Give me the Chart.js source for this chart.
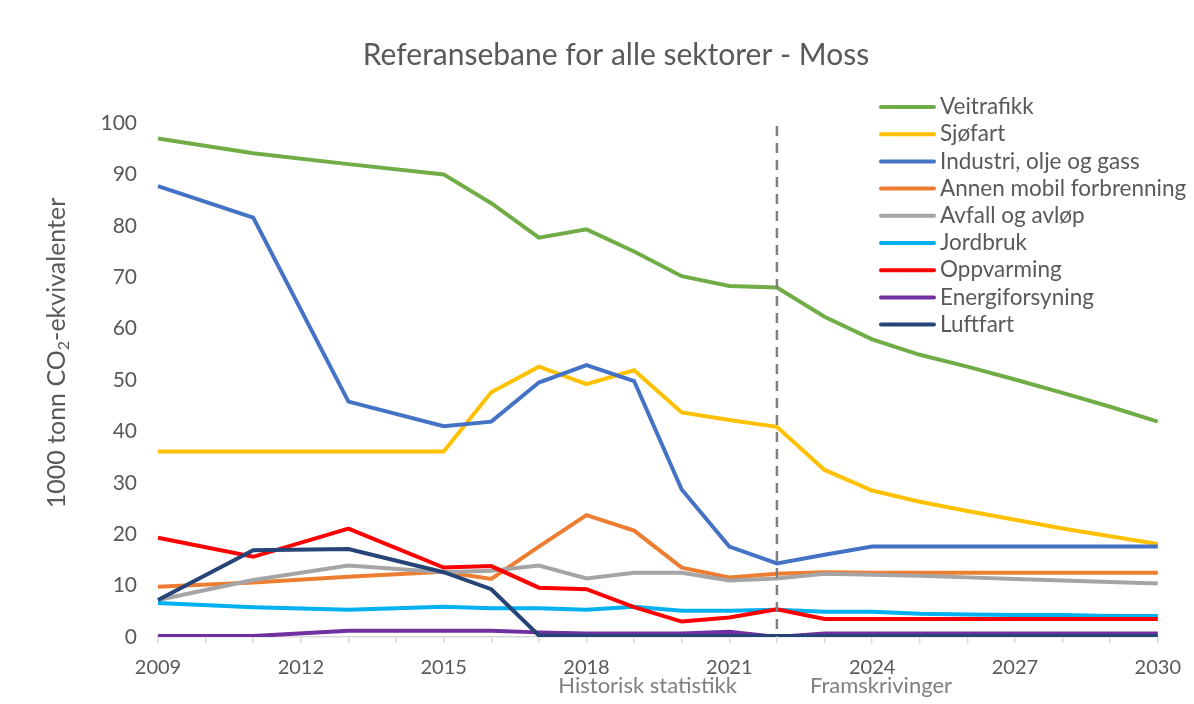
<!DOCTYPE html>
<html>
<head>
<meta charset="utf-8">
<script src="https://cdn.jsdelivr.net/npm/chart.js@4.4.1/dist/chart.umd.min.js"></script>
<style>
  html, body { margin: 0; padding: 0; background: #fff; }
  #wrap { width: 1194px; height: 704px; }
</style>
</head>
<body>
<div id="wrap"><canvas id="chart" width="1194" height="704"></canvas></div>
<script>
var chartColors = {
    green: '#70AD47',
    yellow: '#FFC000',
    blue: '#4472C4',
    orange: '#ED7D31',
    grey: '#A5A5A5',
    lightblue: '#00B0F0',
    red: '#FF0000',
    purple: '#7030A0',
    navy: '#264478'
};

var years = ['2009', '2010', '2011', '2012', '2013', '2014', '2015', '2016', '2017', '2018', '2019',
    '2020', '2021', '2022', '2023', '2024', '2025', '2026', '2027', '2028', '2029', '2030'];

// 2010, 2012 and 2014 have no values (line goes straight across)
var veitrafikk =      [97.0, null, 94.1, null, 92.0, null, 90.0, 84.4, 77.7, 79.3, 75.0, 70.2, 68.3, 68.0, 62.3, 57.9, 54.9, 52.6, 50.1, 47.5, 44.8, 41.9];
var sjofart =         [36.1, null, 36.1, null, 36.1, null, 36.1, 47.6, 52.6, 49.2, 51.9, 43.7, 42.2, 40.9, 32.5, 28.5, 26.3, 24.5, 22.8, 21.1, 19.6, 18.1];
var industri =        [87.7, null, 81.6, null, 45.8, null, 41.0, 41.9, 49.5, 52.9, 49.8, 28.7, 17.6, 14.3, 16.0, 17.6, 17.6, 17.6, 17.6, 17.6, 17.6, 17.6];
var annenMobil =      [9.8, null, 10.6, null, 11.7, null, 12.7, 11.3, 17.6, 23.7, 20.7, 13.5, 11.6, 12.3, 12.6, 12.5, 12.5, 12.5, 12.5, 12.5, 12.5, 12.5];
var avfall =          [7.2, null, 11.1, null, 13.9, null, 12.6, 12.9, 13.9, 11.4, 12.5, 12.5, 11.0, 11.4, 12.3, 12.1, 11.9, 11.6, 11.3, 11.0, 10.7, 10.4];
var jordbruk =        [6.6, null, 5.8, null, 5.3, null, 5.9, 5.6, 5.6, 5.3, 5.9, 5.1, 5.1, 5.3, 4.9, 4.9, 4.5, 4.4, 4.3, 4.3, 4.1, 4.1];
var oppvarming =      [19.3, null, 15.6, null, 21.1, null, 13.5, 13.8, 9.6, 9.3, 5.8, 3.0, 3.8, 5.4, 3.5, 3.5, 3.5, 3.5, 3.5, 3.5, 3.5, 3.5];
var energiforsyning = [0.2, null, 0.2, null, 1.2, null, 1.2, 1.2, 0.9, 0.7, 0.7, 0.7, 1.0, 0.0, 0.7, 0.7, 0.7, 0.7, 0.7, 0.7, 0.7, 0.7];
var luftfart =        [7.2, null, 16.9, null, 17.1, null, 12.6, 9.3, 0.3, 0.2, 0.2, 0.2, 0.2, 0.2, 0.2, 0.2, 0.2, 0.2, 0.2, 0.2, 0.2, 0.2];

var seriesNames = ['Veitrafikk', 'Sjøfart', 'Industri, olje og gass', 'Annen mobil forbrenning',
    'Avfall og avløp', 'Jordbruk', 'Oppvarming', 'Energiforsyning', 'Luftfart'];
var seriesData = [veitrafikk, sjofart, industri, annenMobil, avfall, jordbruk, oppvarming, energiforsyning, luftfart];
var seriesColors = [chartColors.green, chartColors.yellow, chartColors.blue, chartColors.orange, chartColors.grey,
    chartColors.lightblue, chartColors.red, chartColors.purple, chartColors.navy];

var yTicks = [0, 10, 20, 30, 40, 50, 60, 70, 80, 90, 100];
var splitYear = '2022';
var chartTitle = 'Referansebane for alle sektorer - Moss';
var periodLabels = ['Historisk statistikk', 'Framskrivinger'];

var textColor = '#595959';
var fontName = 'Lato, "Open Sans", sans-serif';

var datasets = [];
for (var i = 0; i < seriesNames.length; i++) {
    datasets.push({
        label: seriesNames[i],
        data: seriesData[i],
        borderColor: seriesColors[i],
        backgroundColor: seriesColors[i],
        borderWidth: 4,
        pointRadius: 0,
        tension: 0,
        spanGaps: true,
        fill: false,
        order: seriesNames.length - 1 - i
    });
}

// title, legend, split line, period labels, y axis title
var overlay = {
    id: 'overlay',
    afterDatasetsDraw: function (chart) {
        var ctx = chart.ctx;
        var x = chart.scales.x;
        var y = chart.scales.y;
        var sx = x.getPixelForValue(years.indexOf(splitYear));

        ctx.save();
        ctx.strokeStyle = '#7F7F7F';
        ctx.lineWidth = 2.5;
        ctx.setLineDash([10, 7]);
        ctx.beginPath();
        ctx.moveTo(sx, y.getPixelForValue(100) + 3);
        ctx.lineTo(sx, y.getPixelForValue(0));
        ctx.stroke();
        ctx.restore();
    },
    afterDraw: function (chart) {
        var ctx = chart.ctx;
        var x = chart.scales.x;
        var sx = x.getPixelForValue(years.indexOf(splitYear));

        ctx.save();
        ctx.fillStyle = textColor;
        ctx.textBaseline = 'middle';

        // title
        ctx.font = '30px ' + fontName;
        ctx.textAlign = 'center';
        ctx.fillText(chartTitle, 616, 55);

        // period labels
        ctx.font = '22px ' + fontName;
        ctx.fillStyle = '#7F7F7F';
        ctx.textAlign = 'right';
        ctx.fillText(periodLabels[0], sx - 40, 686);
        ctx.textAlign = 'left';
        ctx.fillText(periodLabels[1], sx + 33, 686);

        // legend
        ctx.font = '22.5px ' + fontName;
        ctx.fillStyle = textColor;
        ctx.lineCap = 'round';
        ctx.lineWidth = 4;
        for (var i = 0; i < seriesNames.length; i++) {
            var ly = 107 + i * 27.2;
            ctx.strokeStyle = seriesColors[i];
            ctx.beginPath();
            ctx.moveTo(881, ly);
            ctx.lineTo(934, ly);
            ctx.stroke();
            ctx.fillText(seriesNames[i], 940, ly);
        }

        // y axis title with subscript 2
        ctx.translate(57, 353);
        ctx.rotate(-Math.PI / 2);
        var p1 = '1000 tonn CO', p2 = '2', p3 = '-ekvivalenter';
        ctx.font = '25px ' + fontName;
        var w1 = ctx.measureText(p1).width, w3 = ctx.measureText(p3).width;
        ctx.font = '16px ' + fontName;
        var w2 = ctx.measureText(p2).width;
        var start = -(w1 + w2 + w3) / 2;
        ctx.textAlign = 'left';
        ctx.font = '25px ' + fontName;
        ctx.fillText(p1, start, 0);
        ctx.font = '16px ' + fontName;
        ctx.fillText(p2, start + w1, 7);
        ctx.font = '25px ' + fontName;
        ctx.fillText(p3, start + w1 + w2, 0);
        ctx.restore();
    }
};

var ctx = document.getElementById('chart').getContext('2d');
var chart = new Chart(ctx, {
    type: 'line',
    data: {
        labels: years,
        datasets: datasets
    },
    plugins: [overlay],
    options: {
        responsive: false,
        animation: false,
        layout: {
            padding: { left: 40, right: 26, top: 123, bottom: 0 }
        },
        plugins: {
            legend: { display: false },
            title: { display: false },
            tooltip: { enabled: false }
        },
        scales: {
            x: {
                type: 'category',
                offset: false,
                afterFit: function (scale) { scale.height = 67; },
                grid: {
                    drawOnChartArea: false,
                    drawTicks: true,
                    tickLength: 6,
                    color: '#D9D9D9',
                    lineWidth: 1.5
                },
                border: { color: '#D9D9D9', width: 1.5 },
                ticks: {
                    autoSkip: false,
                    maxRotation: 0,
                    padding: 13,
                    color: textColor,
                    font: { family: fontName, size: 20 },
                    callback: function (value, index) {
                        return (index % 3 === 0) ? years[index] : '';
                    }
                }
            },
            y: {
                min: yTicks[0],
                max: yTicks[yTicks.length - 1],
                afterFit: function (scale) { scale.width = 118; },
                afterBuildTicks: function (scale) {
                    scale.ticks = yTicks.map(function (v) { return { value: v }; });
                },
                grid: { display: false, drawTicks: false },
                border: { display: false },
                ticks: {
                    padding: 21,
                    color: textColor,
                    font: { family: fontName, size: 21 }
                }
            }
        }
    }
});
</script>
</body>
</html>
